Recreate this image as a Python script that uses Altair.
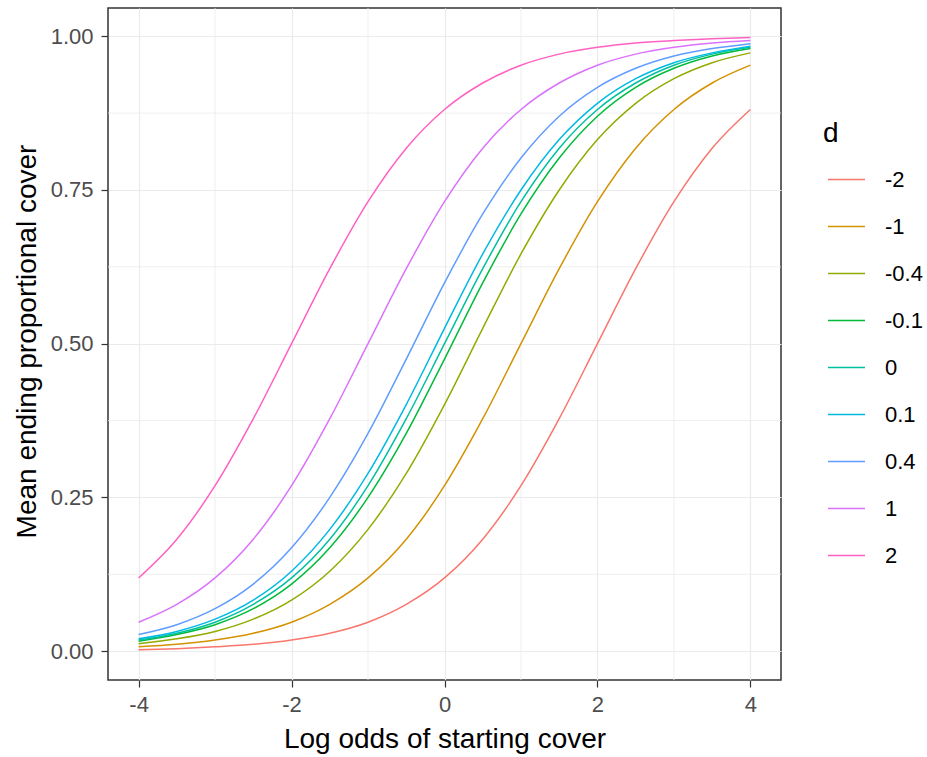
import altair as alt
import pandas as pd

# x positions (log odds of starting cover)
x_vals = [-4.0, -3.5, -3.0, -2.5, -2.0, -1.5, -1.0, -0.5, 0.0,
          0.5, 1.0, 1.5, 2.0, 2.5, 3.0, 3.5, 4.0]

d_levels = ["-2", "-1", "-0.4", "-0.1", "0", "0.1", "0.4", "1", "2"]
d_colors = ["#F8766D", "#D39200", "#93AA00", "#00BA38", "#00C19F",
            "#00B9E3", "#619CFF", "#DB72FB", "#FF61C3"]

# mean ending proportional cover
y_dm2 = [0.002, 0.004, 0.007, 0.011, 0.018, 0.029, 0.047, 0.076, 0.119,
         0.182, 0.269, 0.378, 0.500, 0.622, 0.731, 0.818, 0.881]
y_dm1 = [0.007, 0.011, 0.018, 0.029, 0.047, 0.076, 0.119, 0.182, 0.269,
         0.378, 0.500, 0.622, 0.731, 0.818, 0.881, 0.924, 0.953]
y_dm04 = [0.012, 0.020, 0.032, 0.052, 0.083, 0.130, 0.198, 0.289, 0.401,
          0.525, 0.646, 0.750, 0.832, 0.891, 0.931, 0.957, 0.973]
y_dm01 = [0.016, 0.027, 0.043, 0.069, 0.109, 0.168, 0.250, 0.354, 0.475,
          0.599, 0.711, 0.802, 0.870, 0.917, 0.948, 0.968, 0.980]
y_d0 = [0.018, 0.029, 0.047, 0.076, 0.119, 0.182, 0.269, 0.378, 0.500,
        0.622, 0.731, 0.818, 0.881, 0.924, 0.953, 0.971, 0.982]
y_d01 = [0.020, 0.032, 0.052, 0.083, 0.130, 0.198, 0.289, 0.401, 0.525,
         0.646, 0.750, 0.832, 0.891, 0.931, 0.957, 0.973, 0.984]
y_d04 = [0.027, 0.043, 0.069, 0.109, 0.168, 0.250, 0.354, 0.475, 0.599,
         0.711, 0.802, 0.870, 0.917, 0.948, 0.968, 0.980, 0.988]
y_d1 = [0.047, 0.076, 0.119, 0.182, 0.269, 0.378, 0.500, 0.622, 0.731,
        0.818, 0.881, 0.924, 0.953, 0.971, 0.982, 0.989, 0.993]
y_d2 = [0.119, 0.182, 0.269, 0.378, 0.500, 0.622, 0.731, 0.818, 0.881,
        0.924, 0.953, 0.971, 0.982, 0.989, 0.993, 0.996, 0.998]

series = [y_dm2, y_dm1, y_dm04, y_dm01, y_d0, y_d01, y_d04, y_d1, y_d2]

x_major = [-4, -2, 0, 2, 4]
x_minor = [-3, -1, 1, 3]
y_major = [0.0, 0.25, 0.5, 0.75, 1.0]
y_minor = [0.125, 0.375, 0.625, 0.875]

rows = []
for d, ys in zip(d_levels, series):
    for xv, yv in zip(x_vals, ys):
        rows.append({"x": xv, "y": yv, "d": d})
df = pd.DataFrame(rows)

FONT = "Liberation Sans"
xscale = alt.Scale(domain=[-4.4, 4.4], nice=False, zero=False)
yscale = alt.Scale(domain=[-0.047, 1.046], nice=False, zero=False)

x_axis = alt.Axis(values=x_major, title="Log odds of starting cover",
                  labelExpr="'' + datum.value",
                  labelPadding=7, titleY=67, titleBaseline="alphabetic")
y_axis = alt.Axis(values=y_major, format=".2f",
                  title="Mean ending proportional cover",
                  labelPadding=8, titleX=-73, titleY=333,
                  titleBaseline="alphabetic", titleAlign="center")

minor_x = alt.Chart(pd.DataFrame({"v": x_minor})).mark_rule(
    color="#EBEBEB", strokeWidth=0.8
).encode(x=alt.X("v:Q", scale=xscale, axis=x_axis))

minor_y = alt.Chart(pd.DataFrame({"v": y_minor})).mark_rule(
    color="#EBEBEB", strokeWidth=0.8
).encode(y=alt.Y("v:Q", scale=yscale, axis=y_axis))

lines = alt.Chart(df).mark_line(strokeWidth=1.5, interpolate="monotone").encode(
    x=alt.X("x:Q", scale=xscale, axis=x_axis),
    y=alt.Y("y:Q", scale=yscale, axis=y_axis),
    color=alt.Color("d:N", sort=d_levels,
                    scale=alt.Scale(domain=d_levels, range=d_colors),
                    legend=alt.Legend(title="d", orient="none",
                                      legendX=715, legendY=112,
                                      symbolType="stroke", symbolSize=1369,
                                      symbolStrokeWidth=1.5,
                                      symbolOffset=4,
                                      labelFontSize=22, titleFontSize=28,
                                      labelOffset=19, rowPadding=16,
                                      titlePadding=12,
                                      labelColor="black", titleColor="black",
                                      titleFontWeight="normal",
                                      labelFont=FONT, titleFont=FONT)),
)

chart = alt.layer(minor_x, minor_y, lines).properties(
    width=673, height=672,
    autosize=alt.AutoSizeParams(type="none"),
    padding={"left": 108, "top": 8, "right": 146, "bottom": 77},
    background="white",
).configure_view(
    stroke="#333333", strokeWidth=1.5
).configure_axis(
    labelFont=FONT, titleFont=FONT,
    labelFontSize=22, labelColor="#4D4D4D",
    titleFontSize=28, titleColor="black", titleFontWeight="normal",
    tickColor="#333333", tickSize=7, tickWidth=1.2,
    domain=False, grid=True, gridColor="#EBEBEB", gridWidth=1.2,
)

chart.save("out.html", embed_options={"renderer": "svg", "actions": False})
